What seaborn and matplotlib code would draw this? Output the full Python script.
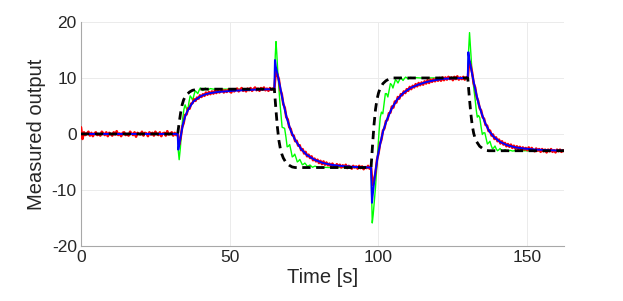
import numpy as np
import matplotlib
matplotlib.use("Agg")
import matplotlib.pyplot as plt
import seaborn as sns

# reference (black dashed)
ref_time = [0, 32.5, 33.0, 33.5, 34.0, 34.5, 35.0, 35.5, 36.5, 37.5, 38.5, 39.5,
            65.0, 65.5, 66.0, 66.5, 67.0, 67.5, 68.0, 69.0, 70.0, 71.0, 72.0,
            97.5, 98.0, 98.5, 99.0, 99.5, 100.0, 100.5, 101.5, 102.5, 103.5, 104.5,
            130.0, 130.5, 131.0, 131.5, 132.0, 132.5, 133.0, 134.0, 135.0, 136.0, 137.0, 162.5]
ref_vals = [0, 0, 2.0, 3.8, 5.2, 6.1, 6.6, 7.0, 7.5, 7.8, 7.9, 8.0,
            8.0, 4.5, 1.3, -1.1, -2.6, -3.6, -4.3, -5.2, -5.6, -5.9, -6.0,
            -6.0, -2.0, 1.7, 4.4, 6.2, 7.3, 8.1, 9.0, 9.5, 9.8, 10.0,
            10.0, 6.75, 3.8, 1.55, 0.1, -0.8, -1.4, -2.2, -2.6, -2.9, -3.0, -3.0]

# fast output (green)
green_time = [0, 32.5, 32.7, 33.0, 33.4, 33.8, 34.2, 34.6, 35.0, 35.4, 35.85, 36.3, 36.7, 37.1,
              37.55, 38.0, 38.4, 38.8, 39.25, 39.7, 40.1, 40.5, 40.95, 41.4, 41.8, 42.2, 42.65,
              43.1, 43.5, 44.5, 65.0,
              65.3, 65.55, 65.8, 66.1, 66.4, 66.8, 67.2, 67.6, 68.0, 68.45, 68.9, 69.3, 69.7,
              70.15, 70.6, 71.0, 71.4, 71.85, 72.3, 72.7, 73.1, 73.55, 74.0, 74.4, 74.8, 75.25,
              75.7, 76.1, 76.5, 76.95, 77.4, 77.8, 78.2, 78.65, 79.5, 81.0, 84.0, 97.5,
              97.7, 97.9, 98.2, 98.6, 99.0, 99.4, 99.8, 100.2, 100.6, 101.0, 101.45, 101.9,
              102.3, 102.7, 103.15, 103.6, 104.0, 104.4, 104.85, 105.3, 105.7, 106.1, 106.55,
              107.0, 107.4, 107.8, 108.25, 108.7, 109.1, 109.5, 109.95, 110.4, 110.8, 111.2,
              111.65, 112.5, 114.0, 130.0,
              130.3, 130.6, 130.9, 131.4, 132.0, 132.5, 132.85, 133.2, 133.6, 134.05, 134.5,
              134.9, 135.3, 135.75, 136.2, 136.6, 137.0, 137.45, 137.9, 138.3, 138.7, 139.15,
              139.6, 140.0, 140.4, 140.85, 141.3, 141.7, 142.1, 142.55, 143.0, 143.4, 144.25,
              145.1, 146.0, 147.0, 162.5]
green_vals = [0, 0, -3.0, -4.6, -2.5, 0.5, 2.8, 4.4, 5.2, 4.6, 4.1, 5.7, 6.8, 6.5,
              6.0, 7.0, 7.7, 7.5, 7.2, 7.8, 8.2, 8.0, 7.75, 8.0, 8.2, 8.05, 7.9,
              8.0, 8.1, 8.0, 8.0,
              14.0, 16.5, 14.5, 11.5, 9.2, 6.0, 3.6, 1.2, 1.1, 1.0, -0.6, -2.3, -2.2,
              -1.9, -3.0, -4.1, -3.95, -3.6, -4.3, -5.0, -4.85, -4.55, -5.05, -5.5, -5.4, -5.2,
              -5.5, -5.8, -5.7, -5.55, -5.75, -5.95, -5.85, -5.75, -5.93, -5.95, -6.0, -6.0,
              -11.0, -15.9, -14.5, -12.0, -9.5, -6.0, -2.7, 0.5, 3.0, 3.9, 3.6, 5.5,
              7.2, 7.2, 6.6, 7.9, 9.0, 8.8, 8.2, 9.0, 9.7, 9.5, 9.1,
              9.6, 10.1, 9.9, 9.55, 9.9, 10.15, 10.05, 9.8, 10.0, 10.1, 10.05,
              9.93, 10.05, 10.0, 10.0,
              15.0, 18.1, 15.5, 11.4, 8.3, 6.1, 4.3, 3.0, 3.3, 2.9, 1.2,
              -0.1, 0.2, 0.2, -0.9, -1.8, -1.6, -1.3, -2.1, -2.65, -2.5, -2.15,
              -2.7, -3.0, -2.85, -2.6, -2.9, -3.1, -3.0, -2.8, -3.0, -3.1, -2.93,
              -3.06, -2.97, -3.0, -3.0]

# smooth output (blue)
blue_time = [0, 32.5, 32.7, 33.0, 33.3, 33.8, 34.3, 35.0, 35.8, 36.8, 37.8, 39.0, 40.5, 42.0,
             43.5, 46.0, 51.0, 56.0, 60.0, 65.0,
             65.2, 65.5, 66.0, 66.9, 68.0, 69.2, 70.5, 72.0, 74.0, 75.9, 78.5, 81.4, 84.0,
             87.1, 92.0, 97.5,
             97.8, 98.2, 98.9, 99.7, 100.6, 101.6, 102.8, 104.4, 106.2, 108.3, 110.7, 113.3,
             116.3, 119.0, 121.8, 126.0, 130.0,
             130.2, 130.5, 130.8, 131.4, 132.0, 132.8, 133.6, 134.7, 135.9, 137.2, 138.7,
             140.8, 143.2, 146.0, 148.8, 153.0, 157.0, 162.5]
blue_vals = [0, 0, -2.8, -2.0, -1.1, 0.4, 1.8, 3.1, 4.1, 5.0, 5.8, 6.3, 6.8, 7.1,
             7.3, 7.5, 7.7, 7.85, 7.95, 8.0,
             13.2, 12.0, 10.8, 8.5, 5.5, 2.8, 0.6, -1.1, -2.7, -3.75, -4.6, -5.2, -5.5,
             -5.7, -5.9, -6.0,
             -12.3, -10.2, -7.0, -4.1, -1.7, 0.6, 2.5, 4.5, 6.1, 7.3, 8.2, 8.8,
             9.3, 9.6, 9.85, 9.95, 10.0,
             14.6, 13.4, 12.6, 10.9, 9.3, 7.3, 5.5, 3.6, 1.9, 0.5, -0.5,
             -1.4, -2.0, -2.4, -2.6, -2.8, -2.9, -3.0]

# noisy measurement (red), sampled every 0.5 s
red_time = np.arange(0, 163, 0.5)
red_vals = [
    1.2, -0.9, 0.3, -0.2, 0.1, 0.4, -0.3, 0.2, -0.4, 0.1, 0.3, -0.2, 0.0, -0.3, 0.4, 0.1,
    -0.2, 0.3, -0.4, 0.2, 0.0, -0.3, 0.3, -0.1, 0.5, -0.2, 0.1, -0.4, 0.2, 0.3, -0.2, 0.0,
    -0.3, 0.4, 0.1, -0.2, 0.3, -0.5, 0.2, 0.0, -0.1, 0.4, -0.3, 0.2, 0.1, -0.4, 0.3, -0.1,
    0.2, -0.3, 0.4, 0.0, -0.2, 0.3, -0.4, 0.1, 0.2, -0.3, 0.5, -0.1, 0.0, 0.3, -0.3, 0.2,
    -0.2,
    0.1, -1.9, -0.7, 1.2, 1.9, 3.4, 3.5, 4.6, 4.5, 5.4, 5.5, 6.2, 5.9, 6.5, 6.3, 6.9,
    6.6, 7.1, 6.8, 7.4, 7.0, 7.5, 7.1, 7.6, 7.2, 7.7, 7.3, 7.8, 7.4, 7.6, 7.9, 7.4,
    7.8, 7.5, 7.9, 7.6, 7.4, 8.0, 7.6, 7.9, 8.1, 7.6, 7.9, 8.2, 7.7, 8.0, 7.6, 8.1,
    7.8, 8.2, 7.7, 8.0, 8.3, 7.8, 8.1, 7.7, 8.2, 7.9, 8.3, 7.8, 8.1, 7.7, 8.2, 7.9,
    8.1,
    8.1, 11.2, 10.6, 9.8, 7.9, 7.1, 5.3, 4.7, 3.0, 2.6, 1.2, 0.9, -0.2, -0.3, -1.3, -1.2,
    -2.1, -2.0, -2.9, -2.7, -3.5, -3.2, -4.0, -3.7, -4.3, -4.0, -4.7, -4.4, -4.9, -4.6, -5.2, -4.8,
    -5.4, -4.9, -5.5, -5.1, -5.6, -5.3, -5.8, -5.3, -5.7, -5.9, -5.4, -5.8, -5.5, -6.0, -5.6, -5.9,
    -5.5, -6.1, -5.7, -5.9, -6.2, -5.7, -6.0, -5.8, -6.2, -5.7, -6.1, -5.8, -6.3, -5.9, -6.1, -5.7,
    -6.2,
    -5.9, -9.1, -8.3, -6.9, -4.6, -3.5, -1.8, -1.0, 0.6, 1.0, 2.3, 2.5, 3.7, 3.8, 4.9, 4.7,
    5.8, 5.6, 6.6, 6.3, 7.1, 6.9, 7.6, 7.3, 8.0, 7.7, 8.4, 8.0, 8.6, 8.3, 8.9, 8.5,
    9.1, 8.7, 9.2, 8.8, 9.4, 9.0, 9.6, 9.1, 9.7, 9.3, 9.8, 9.4, 9.9, 9.5, 10.0, 9.5,
    10.1, 9.6, 10.1, 9.7, 10.2, 9.8, 10.1, 9.6, 10.2, 9.8, 10.3, 9.7, 10.1, 9.8, 10.2, 9.7,
    10.1,
    9.9, 13.0, 12.2, 10.9, 9.0, 8.3, 6.6, 5.9, 4.6, 4.2, 3.0, 2.7, 1.6, 1.5, 0.5, 0.6,
    -0.3, -0.1, -0.9, -0.6, -1.3, -1.0, -1.7, -1.3, -1.9, -1.6, -2.2, -1.8, -2.3, -1.9, -2.5, -2.1,
    -2.6, -2.2, -2.7, -2.3, -2.8, -2.4, -2.8, -2.5, -2.9, -2.4, -3.0, -2.5, -2.9, -3.1, -2.6, -3.0,
    -2.7, -3.2, -2.7, -3.1, -2.8, -3.3, -2.8, -3.1, -2.7, -3.2, -2.9, -3.3, -2.8, -3.1, -2.8, -3.2,
    -2.9, -3.1,
]

sns.set_theme(style="white")
plt.rcParams['font.family'] = ['Liberation Sans', 'DejaVu Sans']
plt.rcParams['axes.unicode_minus'] = False

fig, ax = plt.subplots(figsize=(6.23, 3.01), dpi=100)
fig.subplots_adjust(left=0.130, right=0.906, bottom=0.183, top=0.927)

sns.lineplot(x=green_time, y=green_vals, ax=ax, color="#00ff00", lw=1.0, zorder=2)
sns.lineplot(x=red_time, y=red_vals, ax=ax, color="#ff0000", lw=1.8, zorder=3)
sns.lineplot(x=blue_time, y=blue_vals, ax=ax, color="#0000ff", lw=1.4, zorder=4)
sns.lineplot(x=ref_time, y=ref_vals, ax=ax, color="black", lw=2.0,
             linestyle=(0, (3, 2)), zorder=5)

ax.set_xlim(0, 162.5)
ax.set_ylim(-20, 20)
ax.set_xticks([0, 50, 100, 150])
ax.set_yticks([-20, -10, 0, 10, 20])
ax.grid(True, color="#ebebeb", lw=0.7)
for s in ["top", "right"]:
    ax.spines[s].set_visible(False)
for s in ["left", "bottom"]:
    ax.spines[s].set_color("#a8a8a8")
    ax.spines[s].set_linewidth(0.8)
ax.tick_params(direction="in", length=3, width=0.8, color="#a8a8a8",
               labelsize=12.5, labelcolor="#262626", pad=3)
ax.set_xlabel("Time [s]", fontsize=14.5, color="#262626", labelpad=2)
ax.set_ylabel("Measured output", fontsize=14.5, color="#262626", labelpad=4)

plt.savefig("out.png", dpi=100)
